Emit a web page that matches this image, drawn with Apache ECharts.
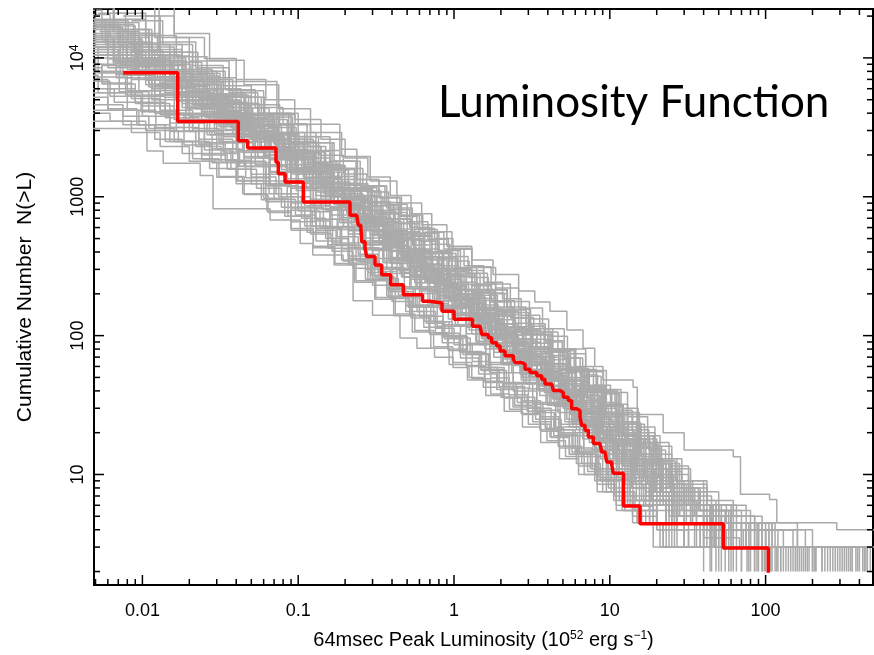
<!DOCTYPE html>
<html><head><meta charset="utf-8">
<script src="https://cdn.jsdelivr.net/npm/echarts@6/dist/echarts.min.js"></script>
<style>html,body{margin:0;padding:0;background:#fff}#c{width:874px;height:655px}</style>
</head><body><div id="c"></div>
<script>
// axis ranges and tick labels
const xMin = 0.00489, xMax = 489, yMin = 1.6, yMax = 22500;
const xMajorTicks = [0.01, 0.1, 1, 10, 100];
const xMinorTicks = [0.005,0.006,0.007,0.008,0.009,0.02,0.03,0.04,0.05,0.06,0.07,0.08,0.09,0.2,0.3,0.4,0.5,0.6,0.7,0.8,0.9,2,3,4,5,6,7,8,9,20,30,40,50,60,70,80,90,200,300,400];
const yMajorTicks = [10, 100, 1000, 10000];
const yMinorTicks = [2,3,4,5,6,7,8,9,20,30,40,50,60,70,80,90,200,300,400,500,600,700,800,900,2000,3000,4000,5000,6000,7000,8000,9000,20000];

// observed luminosity function (red), [L, N(>L)]
const observed = [[0.00754,7810],[0.01685,3485],[0.04125,2532],[0.0474,2245],[0.072,1774],[0.0745,1463],[0.0823,1276],[0.1078,918],[0.215,736],[0.2374,717],[0.243,624],[0.2519,608],[0.2557,475],[0.2685,426],[0.2753,371],[0.3111,323],[0.3435,274],[0.3925,232],[0.4727,197],[0.6278,177],[0.7013,172],[0.8375,150],[1.0,131],[1.314,117],[1.469,114],[1.506,102],[1.661,96.6],[1.746,89],[1.88,84.3],[1.974,77.6],[2.125,71.5],[2.403,67.6],[2.464,64],[2.72,62.2],[2.856,57.3],[3.075,54.3],[3.395,51.4],[3.656,48.6],[3.838,44.8],[4.238,43.6],[4.34,40.2],[4.791,39],[5.03,36],[5.415,34.1],[5.694,29.7],[6.133,28.9],[6.438,25.9],[6.601,22.6],[6.93,20.8],[7.278,18.6],[7.838,16.7],[8.651,16.2],[8.872,14.5],[9.316,14.1],[9.552,12.3],[10.29,11.7],[10.53,10.2],[12.24,5.94],[15.63,4.42],[53.5,2.96],[104.1,1.96]];

// simulated realisations (grey), [L, N(>L)]
const grey01 = [[0.0042,15000],[0.0075,9800],[0.013,6600],[0.021,4600],[0.034,3300],[0.058,2300],[0.095,1500],[0.14,1000],[0.21,700],[0.3,480],[0.43,350],[0.62,260],[0.88,190],[1.25,140],[1.75,104],[2.5,75],[3.4,55],[4.8,38],[6.7,26],[9.5,18],[13.5,12],[19,8],[28,5],[60,3],[140,2]];
const grey02 = [[0.005,17000],[0.009,11000],[0.015,7200],[0.025,5000],[0.042,3500],[0.07,2400],[0.12,1550],[0.18,1050],[0.26,740],[0.38,510],[0.55,370],[0.78,270],[1.1,200],[1.55,145],[2.2,106],[3.1,77],[4.3,56],[6,40],[8.4,27],[12,18],[16.5,12],[23,8],[35,5],[85,3],[210,2]];
const grey03 = [[0.0038,14000],[0.0065,9200],[0.011,6200],[0.018,4400],[0.03,3000],[0.051,2100],[0.085,1350],[0.125,920],[0.185,650],[0.27,450],[0.39,330],[0.56,240],[0.78,178],[1.1,130],[1.55,96],[2.2,70],[3.1,50],[4.3,35],[6,24],[8.5,16],[12,10.5],[17,7],[25,4.5],[55,3],[110,2]];
const grey04 = [[0.006,13000],[0.01,8600],[0.016,6000],[0.03,4000],[0.05,2700],[0.08,1900],[0.11,1300],[0.17,880],[0.24,640],[0.35,450],[0.5,330],[0.7,245],[1.0,178],[1.4,132],[2.0,95],[2.8,70],[3.9,51],[5.4,36],[7.6,25],[10.5,17],[15,11],[21,7],[33,4.5],[75,3],[170,2]];
const grey05 = [[0.0045,12500],[0.008,8200],[0.014,5600],[0.024,3900],[0.04,2700],[0.065,1850],[0.1,1250],[0.15,850],[0.21,600],[0.29,420],[0.4,305],[0.57,225],[0.82,165],[1.2,120],[1.7,88],[2.4,65],[3.4,47],[4.9,34],[7,23],[10,15],[14,10],[20,6.5],[30,4.5],[65,3],[160,2]];
const grey06 = [[0.0055,18000],[0.0095,12000],[0.016,7800],[0.027,5300],[0.045,3700],[0.075,2600],[0.125,1700],[0.19,1150],[0.28,800],[0.41,560],[0.6,400],[0.85,290],[1.2,215],[1.7,155],[2.4,112],[3.4,80],[4.8,57],[6.6,40],[9.2,27],[13,18],[18,12],[25,8],[38,5.5],[58,4],[120,3],[300,2]];
const grey07 = [[0.0035,13000],[0.006,8500],[0.0095,5800],[0.016,4000],[0.027,2800],[0.045,1900],[0.075,1250],[0.11,860],[0.16,610],[0.23,430],[0.33,310],[0.48,225],[0.68,165],[0.97,120],[1.4,88],[2,63],[2.8,45],[3.9,32],[5.5,22],[7.8,15],[11,10],[15.5,6.5],[23,4.5],[45,3],[95,2]];
const grey08 = [[0.0048,14500],[0.0085,9500],[0.014,6500],[0.023,4500],[0.038,3100],[0.062,2150],[0.1,1450],[0.135,1150],[0.17,900],[0.22,720],[0.28,580],[0.36,460],[0.46,370],[0.6,295],[0.78,235],[1.0,185],[1.3,145],[1.7,114],[2.2,90],[2.9,70],[3.8,54],[5,41],[6.5,31],[8.5,23],[11,17],[14.5,12],[19,8.5],[26,6],[40,4],[95,3],[230,2]];
const grey09 = [[0.0041,11000],[0.0072,7700],[0.012,5400],[0.02,3800],[0.033,2700],[0.055,1900],[0.09,1300],[0.13,930],[0.19,670],[0.27,480],[0.38,350],[0.53,255],[0.75,185],[1.05,135],[1.5,98],[2.1,71],[3,51],[4.2,36],[6,25],[8.4,17],[12,11.5],[17,7.5],[26,5],[48,3],[125,2]];
const grey10 = [[0.006,16000],[0.011,10500],[0.018,7000],[0.03,4700],[0.048,3200],[0.075,2200],[0.115,1500],[0.17,1000],[0.24,700],[0.33,500],[0.46,360],[0.64,260],[0.9,190],[1.25,138],[1.75,101],[2.45,74],[3.4,54],[4.7,39],[6.5,28],[9,19],[12.5,13],[17.5,8.5],[25,6],[40,4.5],[90,3],[260,2]];
const grey11 = [[0.0075,20000],[0.013,13000],[0.022,8500],[0.036,5800],[0.06,4000],[0.1,2700],[0.16,1800],[0.25,1200],[0.37,830],[0.54,580],[0.78,410],[1.1,295],[1.55,215],[2.2,155],[3.1,112],[4.3,80],[6,57],[8.2,40],[11,27],[15,18],[20,12],[28,8],[42,5.5],[70,4],[150,3],[380,2]];
const grey12 = [[0.009,24000],[0.016,15000],[0.027,9600],[0.045,6400],[0.075,4300],[0.12,2900],[0.19,1950],[0.29,1300],[0.43,900],[0.62,630],[0.9,440],[1.3,310],[1.85,220],[2.6,158],[3.7,112],[5.1,80],[7,56],[9.5,39],[13,26],[17.5,17],[24,11],[33,7.5],[50,5.5],[80,4],[180,3],[450,2]];
const grey13 = [[0.0095,26000],[0.0128,11000],[0.0227,7750],[0.0315,6760],[0.073,3900],[0.0955,3330],[0.185,2200],[0.238,1150],[0.3,1000],[0.35,910],[0.45,720],[0.578,590],[0.75,500],[0.985,425],[1.3,350],[1.78,275],[2.6,210],[3.3,175],[4.13,150],[5.3,110],[6.73,81],[8,60],[9.04,48],[14.1,42.5],[15,27],[22,20],[30,15],[62,13.4],[69,7.2],[106,6.6],[118,4.5],[286,4],[600,3]];
const grey14 = [[0.0065,15000],[0.011,10000],[0.019,6800],[0.032,4700],[0.055,3300],[0.09,2300],[0.14,1600],[0.21,1100],[0.31,760],[0.45,540],[0.65,390],[0.93,280],[1.3,205],[1.85,150],[2.6,110],[3.6,80],[5,58],[6.9,41],[9.5,28],[13,19],[18,12.5],[25,8],[37,5.5],[60,4],[130,3],[330,2]];
const grey15 = [[0.005,12000],[0.009,8000],[0.016,5600],[0.028,4000],[0.048,2900],[0.08,2000],[0.13,1400],[0.2,980],[0.3,690],[0.44,500],[0.64,365],[0.92,265],[1.3,195],[1.9,142],[2.7,104],[3.8,76],[5.3,55],[7.4,39],[10.3,27],[14,19],[19,13],[27,9],[40,6],[65,4.5],[110,3],[420,2]];
const grey16 = [[0.0058,19000],[0.0105,12500],[0.018,8000],[0.03,5300],[0.05,3600],[0.085,2450],[0.135,1650],[0.2,1130],[0.29,790],[0.42,560],[0.6,400],[0.86,290],[1.2,210],[1.7,152],[2.4,110],[3.4,79],[4.7,57],[6.5,40],[9,27],[12.5,18],[17,12],[24,8],[34,6],[52,4.5],[100,3],[280,2]];
const grey17 = [[0.003,12000],[0.0052,7800],[0.0085,5300],[0.014,3700],[0.023,2600],[0.038,1800],[0.062,1200],[0.09,830],[0.13,590],[0.19,420],[0.27,300],[0.39,218],[0.55,160],[0.78,117],[1.1,86],[1.6,62],[2.25,45],[3.2,32],[4.5,22],[6.4,14.5],[9,9.5],[13,6.5],[19,4.5],[35,3],[70,2]];
const grey18 = [[0.0042,3100],[0.0107,2140],[0.0136,1740],[0.0235,1420],[0.0284,820],[0.066,680],[0.103,460],[0.124,380],[0.194,345],[0.225,178],[0.3,140],[0.45,96],[0.578,81],[0.75,70],[0.985,59],[1.25,50],[1.54,42.5],[2.0,36],[2.39,30.6],[3.55,23],[4.13,18.6],[5.5,14],[8.24,9.2],[14.1,5.9],[19,3],[45,2]];
const grey19 = [[0.0036,5200],[0.006,4200],[0.0095,3300],[0.015,2500],[0.024,1850],[0.04,1300],[0.062,920],[0.09,660],[0.13,480],[0.19,350],[0.27,255],[0.38,190],[0.54,140],[0.76,104],[1.08,77],[1.5,57],[2.1,42],[3,30],[4.2,21],[6,14],[8.5,9.5],[12,6],[18,4.5],[26,3],[55,2]];
const grey20 = [[0.0032,9000],[0.0055,6500],[0.009,4700],[0.015,3400],[0.025,2450],[0.041,1750],[0.066,1200],[0.1,840],[0.145,600],[0.21,430],[0.3,310],[0.43,225],[0.6,165],[0.85,120],[1.2,88],[1.7,64],[2.4,46],[3.4,33],[4.8,23],[6.8,15],[9.6,10],[13.5,7],[20,4.5],[38,3],[80,2]];
const grey21 = [[0.0045,8000],[0.008,5800],[0.013,4200],[0.021,3000],[0.033,2100],[0.05,1450],[0.075,1000],[0.105,700],[0.15,500],[0.21,360],[0.3,260],[0.42,190],[0.6,138],[0.85,100],[1.2,74],[1.7,54],[2.4,40],[3.4,29],[4.8,20],[6.8,13.5],[9.5,9],[13.5,6],[20,4.5],[30,3],[65,2]];
const grey22 = [[0.0028,20000],[0.005,12000],[0.0085,7800],[0.014,5200],[0.024,3600],[0.04,2500],[0.066,1700],[0.1,1150],[0.15,800],[0.21,570],[0.3,410],[0.43,295],[0.61,215],[0.86,157],[1.2,115],[1.7,84],[2.4,61],[3.4,44],[4.8,31],[6.7,21],[9.4,14],[13,9.5],[18,6.5],[27,4.5],[52,3],[115,2]];
const grey23 = [[0.0025,22000],[0.0055,13500],[0.01,8200],[0.017,5600],[0.029,3900],[0.05,2700],[0.082,1850],[0.125,1250],[0.18,860],[0.26,610],[0.37,440],[0.52,320],[0.74,235],[1.05,170],[1.5,124],[2.1,90],[3,65],[4.2,47],[5.9,33],[8.3,22],[11.5,14.5],[16,9.5],[23,6.5],[34,4.5],[70,3],[190,2]];
const grey24 = [[0.0065,9500],[0.011,7200],[0.018,5300],[0.03,3800],[0.05,2700],[0.08,1950],[0.125,1380],[0.19,960],[0.28,680],[0.4,490],[0.57,355],[0.8,260],[1.12,190],[1.58,138],[2.2,101],[3.1,74],[4.3,54],[6,39],[8.3,27],[11.5,18],[16,12],[22,8],[32,6],[48,4.5],[95,3],[240,2]];
const grey25 = [[0.0033,16000],[0.006,10500],[0.0105,7000],[0.018,4700],[0.031,3200],[0.053,2200],[0.088,1500],[0.13,1020],[0.19,710],[0.27,505],[0.39,365],[0.55,265],[0.78,193],[1.1,140],[1.55,102],[2.2,74],[3.1,53],[4.4,38],[6.2,26],[8.7,17.5],[12.3,11.5],[17,7.5],[24,5],[42,3],[100,2]];
const grey26 = [[0.004,13000],[0.0072,9000],[0.012,6300],[0.02,4500],[0.034,3200],[0.057,2250],[0.095,1550],[0.145,1060],[0.215,740],[0.31,530],[0.45,380],[0.65,275],[0.93,200],[1.35,145],[1.95,106],[2.8,77],[3.9,56],[5.5,40],[7.7,28],[10.8,19],[15,13],[21,9],[30,6],[46,4.5],[88,3],[350,2]];
const grey27 = [[0.0052,11500],[0.0093,8000],[0.016,5700],[0.027,4000],[0.045,2800],[0.072,1950],[0.11,1350],[0.16,940],[0.23,660],[0.33,470],[0.47,340],[0.66,250],[0.93,183],[1.3,134],[1.85,98],[2.6,72],[3.6,52],[5.1,37],[7.1,26],[10,17],[14,11],[19.5,7.5],[28,5],[55,3],[145,2]];
const grey28 = [[0.0047,17500],[0.0088,11000],[0.015,7300],[0.026,4900],[0.043,3400],[0.07,2400],[0.11,1650],[0.165,1150],[0.24,800],[0.35,570],[0.5,410],[0.72,295],[1.02,215],[1.45,157],[2.05,115],[2.9,83],[4.1,60],[5.7,43],[8,30],[11,20],[15.5,13],[22,8.5],[31,6],[50,4],[105,3],[270,2]];
const grey29 = [[0.0039,10500],[0.0068,7200],[0.0115,5000],[0.019,3500],[0.032,2450],[0.053,1700],[0.085,1180],[0.125,820],[0.18,580],[0.26,415],[0.37,300],[0.52,218],[0.73,160],[1.02,117],[1.45,86],[2.05,62],[2.9,45],[4.1,32],[5.8,22],[8.2,15],[11.5,10],[16,6.5],[23,4.5],[40,3],[85,2]];
const grey30 = [[0.0062,14000],[0.011,9600],[0.019,6700],[0.033,4700],[0.056,3300],[0.094,2300],[0.15,1600],[0.23,1100],[0.34,770],[0.5,545],[0.72,390],[1.03,280],[1.47,203],[2.1,147],[3,107],[4.2,78],[5.9,56],[8.2,40],[11.3,28],[15.5,19],[21,13],[29,9],[42,6],[75,4.5],[160,3],[700,2]];
const grey31 = [[0.0044,9000],[0.0068,7600],[0.0105,6400],[0.016,5200],[0.024,4300],[0.036,3400],[0.052,2700],[0.075,2050],[0.1,1600],[0.13,1250],[0.165,1000],[0.2,820],[0.25,680],[0.31,560],[0.38,460],[0.47,380],[0.58,315],[0.72,260],[0.9,210],[1.1,172],[1.35,140],[1.65,115],[2.0,95],[2.5,77],[3.1,62],[3.9,49],[4.9,38],[6.1,29],[7.7,22],[9.7,16],[12.5,11.5],[16,8],[22,6],[33,4.5],[62,3],[135,2]];
const grey32 = [[0.0052,21000],[0.0078,15000],[0.0115,10500],[0.017,7600],[0.026,5500],[0.04,4000],[0.06,2900],[0.088,2100],[0.125,1500],[0.17,1100],[0.23,820],[0.3,620],[0.39,480],[0.5,375],[0.65,295],[0.85,230],[1.1,180],[1.42,140],[1.85,108],[2.4,83],[3.1,64],[4,49],[5.2,37],[6.8,27],[8.8,19.5],[11.5,14],[15,10],[20,7],[28,5],[45,4],[80,3],[175,2]];
const grey33 = [[0.0058,6000],[0.009,4800],[0.014,3900],[0.021,3100],[0.031,2500],[0.045,1950],[0.065,1500],[0.09,1150],[0.12,890],[0.16,690],[0.21,540],[0.27,425],[0.35,335],[0.46,265],[0.6,210],[0.78,165],[1.0,130],[1.3,103],[1.7,81],[2.2,64],[2.9,50],[3.8,39],[5,30],[6.5,23],[8.5,17],[11,12],[14.5,8.5],[19,6],[27,4.5],[50,3],[120,2]];
const grey34 = [[0.0038,24000],[0.0066,16000],[0.011,11000],[0.018,7700],[0.029,5500],[0.046,3900],[0.07,2800],[0.1,2050],[0.14,1500],[0.19,1120],[0.25,850],[0.33,650],[0.43,500],[0.56,390],[0.73,305],[0.95,240],[1.24,188],[1.6,148],[2.1,116],[2.75,90],[3.6,70],[4.7,54],[6.1,41],[7.9,31],[10.2,23],[13.2,16.5],[17,11.5],[22,8],[30,6],[45,4.5],[90,3],[320,2]];
const grey35 = [[0.004,10000],[0.0085,8800],[0.011,6200],[0.02,5600],[0.024,4100],[0.043,3500],[0.05,2600],[0.08,2200],[0.095,1700],[0.13,1300],[0.15,1050],[0.21,850],[0.24,650],[0.32,540],[0.36,430],[0.48,360],[0.55,290],[0.72,240],[0.82,195],[1.05,160],[1.25,128],[1.6,104],[1.9,84],[2.4,68],[2.9,55],[3.7,44],[4.4,35],[5.6,27],[6.8,20],[8.6,15],[10.5,11],[14,8],[18,5.5],[27,4],[56,3],[150,2]];
const grey36 = [[0.0035,19000],[0.0058,13000],[0.0092,9200],[0.014,6800],[0.021,5000],[0.033,3700],[0.05,2800],[0.075,2050],[0.11,1500],[0.15,1120],[0.2,850],[0.27,650],[0.36,500],[0.48,385],[0.63,300],[0.82,235],[1.07,184],[1.4,144],[1.82,112],[2.35,88],[3.05,68],[3.95,52],[5.1,40],[6.6,30],[8.5,22],[11,16],[14.3,11],[18.5,7.5],[26,5],[42,4],[75,3],[200,2]];
const grey37 = [[0.0031,7000],[0.006,5600],[0.01,4500],[0.016,3600],[0.026,2800],[0.04,2150],[0.06,1650],[0.085,1250],[0.12,960],[0.16,740],[0.21,580],[0.27,455],[0.35,360],[0.45,285],[0.58,225],[0.75,178],[0.97,140],[1.25,110],[1.6,87],[2.05,68],[2.65,53],[3.4,41],[4.4,31],[5.7,23],[7.4,17],[9.6,12],[12.5,8.5],[16.5,6],[23,4.5],[38,3],[90,2]];
const grey38 = [[0.0068,12000],[0.0115,8800],[0.019,6500],[0.03,4800],[0.047,3500],[0.072,2600],[0.11,1900],[0.16,1400],[0.23,1020],[0.32,750],[0.44,560],[0.6,420],[0.8,318],[1.06,242],[1.4,185],[1.85,142],[2.45,108],[3.2,82],[4.2,62],[5.5,47],[7.2,35],[9.4,26],[12.2,19],[15.8,13.5],[20.5,9.5],[27,6.5],[36,5],[52,4],[100,3],[360,2]];
const grey39 = [[0.0046,16500],[0.0075,11500],[0.012,8000],[0.019,5800],[0.03,4200],[0.047,3000],[0.072,2150],[0.105,1550],[0.145,1150],[0.2,860],[0.27,650],[0.36,495],[0.48,380],[0.63,295],[0.83,230],[1.08,180],[1.4,141],[1.82,110],[2.35,86],[3.05,67],[3.95,51],[5.1,39],[6.6,29],[8.5,21],[11,15],[14.2,10.5],[18.5,7],[25,5],[40,3.5],[68,3],[155,2]];
const grey40 = [[0.0034,8500],[0.0055,6600],[0.0085,5100],[0.013,3900],[0.02,2950],[0.03,2200],[0.045,1650],[0.065,1220],[0.09,900],[0.12,670],[0.16,500],[0.21,375],[0.28,285],[0.37,215],[0.49,165],[0.64,127],[0.84,98],[1.1,76],[1.45,59],[1.9,46],[2.5,36],[3.3,28],[4.4,21],[5.8,15.5],[7.7,11],[10.2,7.5],[14,5.5],[20,4],[32,3],[60,2]];
const grey41 = [[0.0049,4600],[0.0075,3800],[0.011,3100],[0.016,2500],[0.024,2000],[0.035,1580],[0.05,1240],[0.07,960],[0.096,740],[0.13,575],[0.175,445],[0.235,345],[0.31,268],[0.41,208],[0.54,162],[0.71,126],[0.93,98],[1.22,76],[1.6,59],[2.1,45],[2.75,34],[3.6,26],[4.7,19.5],[6.2,14],[8.1,10],[10.7,7],[14,5],[20,4],[30,3],[70,2]];
const grey42 = [[0.0085,18500],[0.0135,12500],[0.021,8800],[0.033,6300],[0.05,4600],[0.076,3350],[0.114,2450],[0.165,1800],[0.235,1330],[0.33,990],[0.46,740],[0.63,555],[0.86,420],[1.16,318],[1.55,242],[2.05,184],[2.7,140],[3.55,106],[4.65,80],[6.05,60],[7.85,44],[10.1,32],[13,23],[16.7,16],[21.5,11],[28,7.5],[38,5.5],[55,4.5],[115,3],[390,2]];
const grey43 = [[0.0043,23000],[0.0065,15500],[0.0095,10500],[0.014,7300],[0.021,5200],[0.032,3700],[0.049,2650],[0.074,1900],[0.108,1380],[0.15,1020],[0.205,760],[0.275,575],[0.36,440],[0.47,340],[0.61,265],[0.79,207],[1.02,162],[1.32,127],[1.7,100],[2.2,78],[2.85,61],[3.7,47],[4.8,36],[6.2,27],[8,20],[10.4,14],[13.5,10],[18,7],[25,5],[44,3],[105,2]];
const grey44 = [[0.0056,10500],[0.0088,8000],[0.0135,6100],[0.02,4700],[0.03,3600],[0.044,2750],[0.064,2080],[0.092,1570],[0.13,1180],[0.18,890],[0.245,675],[0.33,515],[0.44,395],[0.58,305],[0.76,236],[0.99,183],[1.28,142],[1.66,110],[2.15,85],[2.8,65],[3.65,50],[4.75,38],[6.2,28.5],[8.1,21],[10.5,15],[13.7,10.5],[18,7.5],[24,5.5],[36,4.5],[58,3],[125,2]];
const grey45 = [[0.0033,4000],[0.0062,3500],[0.0105,3000],[0.017,2500],[0.027,2050],[0.041,1650],[0.06,1300],[0.085,1000],[0.12,780],[0.165,600],[0.225,465],[0.3,360],[0.4,280],[0.53,218],[0.7,170],[0.92,132],[1.2,103],[1.58,80],[2.07,62],[2.7,48],[3.55,37],[4.65,28],[6.1,21],[8,15.5],[10.5,11],[13.8,8],[18,6],[25,4.5],[40,3],[85,2]];
const grey46 = [[0.0072,16000],[0.0115,11500],[0.018,8300],[0.028,6000],[0.043,4350],[0.065,3150],[0.097,2300],[0.14,1680],[0.2,1240],[0.28,920],[0.39,690],[0.53,520],[0.72,395],[0.97,300],[1.3,229],[1.73,175],[2.3,134],[3.05,102],[4.0,78],[5.25,59],[6.85,44],[8.9,33],[11.5,24],[14.8,17],[19,12],[24.5,8.5],[32,6],[46,4.5],[78,3],[230,2]];
const grey47 = [[0.0037,18000],[0.0058,12500],[0.009,8700],[0.014,6100],[0.022,4300],[0.034,3050],[0.052,2180],[0.078,1570],[0.113,1140],[0.16,840],[0.22,625],[0.3,470],[0.4,355],[0.53,270],[0.7,207],[0.92,158],[1.2,121],[1.57,93],[2.05,71],[2.68,54],[3.5,41],[4.55,31],[5.9,23],[7.7,17],[10,12.5],[13,9],[17,6.5],[23,4.5],[36,3],[78,2]];
const grey48 = [[0.0058,25000],[0.012,14000],[0.02,9500],[0.036,5600],[0.055,4000],[0.09,2500],[0.13,1750],[0.18,1250],[0.25,900],[0.34,660],[0.46,490],[0.62,368],[0.83,278],[1.1,211],[1.46,160],[1.93,122],[2.55,93],[3.35,71],[4.4,54],[5.75,41],[7.5,30],[9.8,22],[12.7,16],[16.5,11],[21.5,7.5],[29,5.5],[42,4],[72,3],[185,2]];
const grey49 = [[0.0041,13500],[0.0066,9500],[0.0105,6900],[0.0165,5000],[0.026,3700],[0.04,2700],[0.061,1980],[0.09,1460],[0.13,1080],[0.18,805],[0.245,605],[0.33,458],[0.44,350],[0.58,268],[0.76,206],[0.99,159],[1.29,123],[1.67,95],[2.17,73],[2.82,56],[3.66,43],[4.75,33],[6.2,24.5],[8.1,18],[10.5,13],[13.7,9],[18,6.5],[25,4.5],[47,3],[98,2]];
const grey50 = [[0.0063,11000],[0.0105,8300],[0.017,6300],[0.027,4800],[0.042,3650],[0.064,2780],[0.096,2100],[0.14,1600],[0.2,1210],[0.28,915],[0.39,695],[0.53,528],[0.72,402],[0.97,306],[1.3,233],[1.74,177],[2.32,134],[3.08,101],[4.08,76],[5.4,57],[7.1,42],[9.3,31],[12.2,22],[15.9,15.5],[20.8,11],[27,8],[35,6],[50,5],[85,4],[160,3],[470,2]];
const grey51 = [[0.0036,6800],[0.0062,5300],[0.0098,4100],[0.015,3150],[0.023,2400],[0.034,1830],[0.05,1390],[0.072,1050],[0.1,790],[0.138,595],[0.186,450],[0.25,340],[0.33,258],[0.44,196],[0.58,149],[0.76,113],[1.0,86],[1.31,65],[1.72,49.5],[2.25,37.5],[2.95,28.5],[3.85,21.5],[5.05,16],[6.6,12],[8.7,9],[11.5,6.5],[15.5,4.5],[24,3],[52,2]];
const grey52 = [[0.005,14000],[0.0079,10000],[0.0125,7300],[0.019,5400],[0.029,4000],[0.044,2950],[0.066,2180],[0.097,1610],[0.14,1190],[0.195,885],[0.265,660],[0.355,495],[0.47,375],[0.62,285],[0.81,218],[1.05,167],[1.36,128],[1.76,98],[2.28,75],[2.95,57],[3.82,43.5],[4.95,33],[6.4,25],[8.3,18.5],[10.8,13.5],[14,9.5],[18.5,6.5],[26,4.5],[50,3],[180,2]];
const grey53 = [[0.0028,26000],[0.0045,18000],[0.007,12500],[0.011,8800],[0.017,6200],[0.026,4400],[0.04,3150],[0.061,2250],[0.092,1620],[0.135,1180],[0.19,870],[0.26,650],[0.35,490],[0.47,372],[0.62,284],[0.82,218],[1.08,167],[1.42,128],[1.86,98],[2.43,75],[3.17,57],[4.13,43],[5.38,32],[7,23.5],[9.1,17],[11.9,12],[15.5,8.5],[21,6],[30,4.5],[55,3],[130,2]];
const grey54 = [[0.0078,14500],[0.0125,10300],[0.02,7400],[0.031,5400],[0.048,3950],[0.073,2900],[0.11,2130],[0.16,1570],[0.23,1160],[0.32,860],[0.44,640],[0.6,478],[0.8,358],[1.06,269],[1.4,203],[1.84,153],[2.42,116],[3.17,88],[4.15,67],[5.42,50],[7.05,37],[9.15,27],[11.8,19.5],[15.3,14],[19.8,10],[25.6,7],[34,5],[52,4],[95,3],[250,2]];
const grey55 = [[0.0047,12000],[0.0072,9300],[0.011,7300],[0.017,5700],[0.026,4400],[0.04,3350],[0.06,2550],[0.088,1930],[0.125,1460],[0.17,1110],[0.225,850],[0.29,660],[0.37,515],[0.47,405],[0.6,320],[0.76,253],[0.96,200],[1.22,158],[1.55,125],[1.97,99],[2.5,78],[3.17,62],[4,49],[5.05,38],[6.4,29],[8.1,22],[10.3,16.5],[13,12],[16.5,9],[21,7.5],[28,6],[40,4.5],[75,3],[210,2]];
const grey56 = [[0.0053,15500],[0.0085,11200],[0.0135,8200],[0.021,6000],[0.033,4400],[0.051,3250],[0.078,2400],[0.115,1780],[0.165,1330],[0.23,1000],[0.31,760],[0.41,585],[0.54,450],[0.7,350],[0.9,272],[1.16,212],[1.5,166],[1.93,130],[2.48,102],[3.2,80],[4.1,62],[5.25,48],[6.7,37],[8.6,28],[11,21],[14,15.5],[18,11],[23,8.5],[30,6],[44,4.5],[70,3],[290,2]];
const grey57 = [[0.0044,11500],[0.007,8600],[0.011,6500],[0.0165,4950],[0.025,3750],[0.038,2850],[0.057,2150],[0.083,1620],[0.118,1220],[0.163,920],[0.22,700],[0.29,535],[0.38,410],[0.5,315],[0.65,243],[0.85,188],[1.1,146],[1.42,113],[1.83,88],[2.36,68],[3.04,53],[3.92,41],[5.05,31],[6.5,24],[8.4,18],[10.8,13],[14,9],[18.5,6.5],[26,4.5],[44,3],[118,2]];
const grey58 = [[0.0078,7200],[0.0115,6000],[0.017,4900],[0.025,3950],[0.037,3150],[0.054,2480],[0.078,1940],[0.11,1510],[0.155,1170],[0.21,905],[0.285,700],[0.38,542],[0.5,420],[0.66,326],[0.86,254],[1.12,198],[1.46,155],[1.9,121],[2.46,95],[3.18,74],[4.1,58],[5.3,45],[6.85,34],[8.85,26],[11.4,19],[14.7,14],[19,10],[24.5,7.5],[33,5.5],[50,4.5],[85,3],[200,2]];
const grey59 = [[0.0039,20500],[0.0062,14000],[0.0098,9800],[0.015,7000],[0.023,5100],[0.035,3750],[0.053,2750],[0.079,2030],[0.115,1500],[0.16,1120],[0.22,840],[0.295,635],[0.39,485],[0.51,372],[0.66,287],[0.86,222],[1.12,172],[1.45,133],[1.88,103],[2.43,80],[3.14,62],[4.06,48],[5.25,36.5],[6.8,27.5],[8.8,20.5],[11.4,15],[14.8,10.5],[19.5,7.5],[27,5],[46,3],[160,2]];
const grey60 = [[0.0066,21000],[0.0105,14500],[0.0165,10200],[0.026,7200],[0.04,5200],[0.061,3750],[0.092,2720],[0.135,1990],[0.195,1460],[0.275,1080],[0.38,805],[0.52,603],[0.7,455],[0.94,345],[1.25,262],[1.66,200],[2.2,153],[2.9,117],[3.8,90],[4.95,69],[6.45,52],[8.35,39],[10.8,29],[13.9,21],[17.8,15],[22.8,10.5],[29,7.5],[38,6],[56,4.5],[95,3],[310,2]];
const grey61 = [[0.0029,15000],[0.0047,10500],[0.0075,7500],[0.012,5400],[0.019,3900],[0.029,2850],[0.044,2080],[0.066,1520],[0.097,1110],[0.14,815],[0.195,605],[0.265,455],[0.355,345],[0.47,263],[0.62,201],[0.81,154],[1.06,118],[1.38,91],[1.8,70],[2.35,54],[3.05,41.5],[3.97,31.5],[5.15,24],[6.7,18],[8.7,13],[11.3,9.5],[14.8,6.5],[20,4.5],[32,3],[88,2]];
const grey62 = [[0.0049,18500],[0.0081,12800],[0.013,9000],[0.0205,6400],[0.032,4600],[0.049,3320],[0.074,2400],[0.108,1750],[0.154,1280],[0.215,945],[0.295,700],[0.4,523],[0.53,393],[0.7,297],[0.91,226],[1.18,173],[1.53,133],[1.98,103],[2.56,80],[3.3,62.5],[4.25,49],[5.5,38],[7.1,29],[9.2,22],[11.9,16.5],[15.4,12],[20,8.5],[26,6.5],[36,5],[55,4],[100,3],[440,2]];
const grey63 = [[0.0055,8800],[0.0085,7000],[0.013,5500],[0.0195,4300],[0.029,3350],[0.043,2600],[0.062,2000],[0.088,1530],[0.123,1170],[0.168,895],[0.226,685],[0.3,525],[0.395,403],[0.515,310],[0.67,239],[0.87,184],[1.13,142],[1.46,109],[1.89,84],[2.44,65],[3.15,50],[4.06,38.5],[5.24,29.5],[6.76,22.5],[8.7,17],[11.2,12.5],[14.5,9],[19,6],[27,4.5],[48,3],[108,2]];
const grey64 = [[0.0046,14000],[0.009,10000],[0.014,7000],[0.025,5000],[0.037,3600],[0.06,2600],[0.088,1900],[0.135,1350],[0.19,980],[0.27,720],[0.37,530],[0.5,400],[0.68,300],[0.9,228],[1.2,174],[1.6,132],[2.1,101],[2.8,77],[3.7,58],[4.9,44],[6.4,33],[8.4,24],[11,17.5],[14.5,12.5],[19,9],[25,6],[36,4.5],[62,3],[205,2]];
const grey65 = [[0.0031,10000],[0.005,7300],[0.0078,5400],[0.012,4000],[0.0185,2980],[0.028,2220],[0.042,1660],[0.062,1240],[0.09,925],[0.128,690],[0.178,515],[0.243,385],[0.325,290],[0.43,219],[0.565,166],[0.74,126],[0.97,96],[1.27,73],[1.66,56],[2.17,43],[2.84,33],[3.72,25],[4.87,19],[6.38,14],[8.4,10.5],[11,7.5],[14.5,5.5],[20,4.5],[30,3],[76,2]];
const grey66 = [[0.0071,13000],[0.0115,9500],[0.0185,7000],[0.029,5200],[0.045,3850],[0.068,2850],[0.101,2100],[0.147,1560],[0.21,1160],[0.295,865],[0.41,648],[0.56,488],[0.76,368],[1.02,279],[1.36,212],[1.81,161],[2.4,123],[3.17,94],[4.18,72],[5.5,55],[7.2,42],[9.4,31.5],[12.2,23.5],[15.8,17],[20.4,12.5],[26.3,9],[34,7],[45,6],[62,4.5],[110,3],[400,2]];
const grey67 = [[0.0061,9800],[0.0093,7800],[0.014,6100],[0.021,4700],[0.031,3600],[0.046,2760],[0.067,2110],[0.097,1610],[0.138,1230],[0.192,940],[0.262,720],[0.352,552],[0.466,424],[0.61,327],[0.79,253],[1.02,196],[1.32,152],[1.7,118],[2.19,91],[2.82,71],[3.63,55],[4.68,42],[6.03,32],[7.77,24],[10,18],[12.9,13],[16.7,9.5],[22,6.5],[31,4.5],[60,3],[165,2]];
const grey68 = [[0.0034,17000],[0.0072,13000],[0.0095,9000],[0.017,7600],[0.021,5300],[0.036,4400],[0.043,3100],[0.07,2600],[0.083,1850],[0.125,1500],[0.145,1100],[0.2,900],[0.23,680],[0.3,560],[0.35,430],[0.46,355],[0.53,275],[0.68,225],[0.8,178],[1.0,145],[1.2,116],[1.5,95],[1.8,76],[2.3,62],[2.75,50],[3.5,40],[4.2,32],[5.3,25],[6.4,19],[8,14.5],[9.8,11],[13,8],[17,6],[24,4.5],[40,3],[95,2]];
const grey69 = [[0.0058,12500],[0.0095,9300],[0.0155,6900],[0.0245,5150],[0.038,3850],[0.058,2880],[0.087,2160],[0.127,1620],[0.182,1220],[0.255,920],[0.35,695],[0.475,527],[0.635,400],[0.84,305],[1.1,233],[1.44,179],[1.88,138],[2.44,106],[3.16,82],[4.08,63],[5.26,48.5],[6.78,37],[8.72,28],[11.2,21],[14.4,15.5],[18.5,11],[23.7,8],[31,6],[44,4.5],[80,3],[340,2]];
const grey70 = [[0.0042,6000],[0.0066,4800],[0.01,3800],[0.015,2950],[0.022,2300],[0.032,1780],[0.046,1370],[0.065,1050],[0.09,800],[0.123,610],[0.166,465],[0.222,355],[0.294,272],[0.387,208],[0.508,160],[0.665,123],[0.87,95],[1.14,73],[1.49,56],[1.95,43],[2.55,33],[3.34,25],[4.37,19],[5.72,14.5],[7.5,11],[9.8,8],[13,6],[18,4.5],[27,3],[62,2]];
const grey71 = [[0.008,15000],[0.013,11000],[0.021,8000],[0.034,5900],[0.053,4400],[0.08,3300],[0.12,2450],[0.17,1800],[0.24,1330],[0.33,980],[0.45,730],[0.6,545],[0.8,410],[1.06,310],[1.4,235],[1.85,178],[2.45,135],[3.25,102],[4.3,77],[5.6,58],[7.3,43],[9.4,32],[12,23],[15.3,16.5],[19.5,12],[25,8.5],[33,6.5],[48,4.5],[90,3],[360,2]];
const grey72 = [[0.0095,12500],[0.015,9300],[0.024,7000],[0.038,5200],[0.058,3900],[0.087,2900],[0.13,2150],[0.185,1600],[0.26,1190],[0.36,885],[0.5,660],[0.68,495],[0.92,372],[1.23,281],[1.64,213],[2.18,161],[2.9,122],[3.85,92],[5.1,69],[6.7,51],[8.8,38],[11.5,28],[15,20],[19.5,14],[25,10],[32,7.5],[42,6],[60,4.5],[105,3],[430,2]];
const grey73 = [[0.0105,20000],[0.016,14000],[0.025,9900],[0.04,7000],[0.062,5000],[0.095,3600],[0.14,2600],[0.2,1900],[0.28,1390],[0.39,1020],[0.53,755],[0.72,560],[0.97,418],[1.3,313],[1.73,235],[2.3,176],[3.05,132],[4.05,99],[5.35,74],[7,55],[9.1,41],[11.8,30],[15.2,22],[19.5,16],[25,11.5],[32,8.5],[42,6.5],[62,5],[95,4],[200,3],[550,2]];
const grey74 = [[0.0037,5600],[0.006,4300],[0.0092,3300],[0.014,2500],[0.021,1880],[0.031,1400],[0.045,1040],[0.064,770],[0.09,575],[0.125,430],[0.17,322],[0.23,242],[0.31,183],[0.41,139],[0.54,106],[0.71,81],[0.93,62],[1.22,48],[1.6,37],[2.1,28.5],[2.75,22],[3.6,17],[4.75,13],[6.3,10],[8.3,7.5],[11,5.5],[15,4.5],[22,3],[48,2]];
const grey75 = [[0.0032,7500],[0.0052,5600],[0.008,4200],[0.0122,3150],[0.0185,2360],[0.028,1760],[0.041,1310],[0.06,975],[0.086,725],[0.12,540],[0.165,405],[0.225,305],[0.3,231],[0.4,176],[0.53,134],[0.7,102],[0.92,78],[1.2,60],[1.58,46],[2.08,35.5],[2.74,27],[3.6,20.5],[4.75,15.5],[6.3,11.5],[8.3,8.5],[11,6],[15,4.5],[22,3],[50,2]];
const grey76 = [[0.0045,4200],[0.0075,3300],[0.012,2600],[0.018,2050],[0.027,1600],[0.04,1240],[0.058,950],[0.082,725],[0.114,555],[0.155,425],[0.21,325],[0.28,250],[0.37,193],[0.49,149],[0.64,115],[0.84,89],[1.1,69],[1.44,53],[1.88,41],[2.45,31.5],[3.2,24],[4.2,18.5],[5.5,14],[7.2,10.5],[9.5,7.5],[12.5,5.5],[17,4.5],[25,3],[58,2]];
const grey77 = [[0.0029,11000],[0.0046,7900],[0.0071,5700],[0.011,4100],[0.0165,2980],[0.025,2170],[0.037,1580],[0.054,1150],[0.078,840],[0.11,615],[0.155,452],[0.213,334],[0.29,248],[0.39,185],[0.52,139],[0.69,105],[0.91,80],[1.2,61],[1.57,47],[2.06,36],[2.7,27.5],[3.55,21],[4.66,16],[6.1,12],[8,9],[10.6,6.5],[14,4.5],[21,3],[44,2]];
const grey78 = [[0.0048,3500],[0.0085,2900],[0.013,2300],[0.02,1800],[0.03,1380],[0.044,1050],[0.063,790],[0.09,590],[0.125,440],[0.172,330],[0.235,248],[0.315,188],[0.42,143],[0.56,109],[0.74,83],[0.98,64],[1.3,49],[1.72,38],[2.27,29.5],[3,23],[3.95,17.5],[5.2,13.5],[6.85,10],[9,7.5],[12,5.5],[16,4.5],[23,3],[40,2]];
const greyRuns = [grey01,grey02,grey03,grey04,grey05,grey06,grey07,grey08,grey09,grey10,grey11,grey12,grey13,grey14,grey15,grey16,grey17,grey18,grey19,grey20,grey21,grey22,grey23,grey24,grey25,grey26,grey27,grey28,grey29,grey30,grey31,grey32,grey33,grey34,grey35,grey36,grey37,grey38,grey39,grey40,grey41,grey42,grey43,grey44,grey45,grey46,grey47,grey48,grey49,grey50,grey51,grey52,grey53,grey54,grey55,grey56,grey57,grey58,grey59,grey60,grey61,grey62,grey63,grey64,grey65,grey66,grey67,grey68,grey69,grey70,grey71,grey72,grey73,grey74,grey75,grey76,grey77,grey78];

const FONT = "'Liberation Sans', Arial, Helvetica, sans-serif";
const chart = echarts.init(document.getElementById('c'), null, {renderer: 'canvas'});

// tick marks (drawn inward on all four sides) through the axes' own coordinate mapping
const tickData = [];
xMajorTicks.forEach(v => { tickData.push([v, 0, 1]); tickData.push([v, 1, 1]); });
xMinorTicks.forEach(v => { tickData.push([v, 0, 0]); tickData.push([v, 1, 0]); });
yMajorTicks.forEach(v => { tickData.push([v, 2, 1]); tickData.push([v, 3, 1]); });
yMinorTicks.forEach(v => { tickData.push([v, 2, 0]); tickData.push([v, 3, 0]); });

function renderTick(params, api) {
  const v = api.value(0), side = api.value(1), major = api.value(2);
  const len = major ? 10 : 6;
  let p, q;
  if (side === 0) { p = api.coord([v, yMin]); q = [p[0], p[1] - len]; }
  else if (side === 1) { p = api.coord([v, yMax]); q = [p[0], p[1] + len]; }
  else if (side === 2) { p = api.coord([xMin, v]); q = [p[0] + len, p[1]]; }
  else { p = api.coord([xMax, v]); q = [p[0] - len, p[1]]; }
  return { type: 'line', shape: {x1: p[0], y1: p[1], x2: q[0], y2: q[1]}, style: {stroke: '#000', lineWidth: 1.5} };
}

const series = greyRuns.map(run => ({
  type: 'line', data: run, step: 'end', showSymbol: false, silent: true,
  lineStyle: {color: '#aaaaaa', width: 1.5}, z: 2, animation: false
}));
series.push({
  type: 'line', data: observed, step: 'end', showSymbol: false, silent: true,
  lineStyle: {color: '#ff0000', width: 3.5}, z: 5, animation: false
});
series.push({
  type: 'custom', data: tickData, renderItem: renderTick, silent: true, z: 8, animation: false
});

chart.setOption({
  animation: false,
  backgroundColor: '#ffffff',
  title: {
    text: 'Luminosity Function', left: 433, top: 76,
    textStyle: {fontFamily: 'Lato', fontSize: 44, fontWeight: 'normal', color: '#000'}
  },
  grid: {left: 94, right: 1, top: 9, bottom: 66, show: true, borderColor: '#000', borderWidth: 2, backgroundColor: 'transparent'},
  xAxis: {
    type: 'log', logBase: 10, min: xMin, max: xMax,
    axisLine: {show: false}, axisTick: {show: false}, splitLine: {show: false}, minorTick: {show: false},
    axisLabel: {
      showMinLabel: false, showMaxLabel: false, margin: 17,
      color: '#000', fontSize: 18, fontFamily: FONT,
      formatter: v => String(+(+v).toPrecision(3))
    },
    name: '64msec Peak Luminosity (10{s|52} erg s{s|−1})',
    nameLocation: 'middle', nameGap: 45,
    nameTextStyle: {color: '#000', fontSize: 20, fontFamily: FONT,
      rich: {s: {fontSize: 12, verticalAlign: 'top', color: '#000', fontFamily: FONT}}}
  },
  yAxis: {
    type: 'log', logBase: 10, min: yMin, max: yMax,
    axisLine: {show: false}, axisTick: {show: false}, splitLine: {show: false}, minorTick: {show: false},
    axisLabel: {
      showMinLabel: false, showMaxLabel: false, margin: 7, rotate: 90,
      color: '#000', fontSize: 18, fontFamily: FONT,
      formatter: v => (v >= 9999 ? '{b|10}{s|4}' : String(Math.round(v))),
      rich: {b: {fontSize: 18, fontFamily: FONT, color: '#000'}, s: {fontSize: 12, verticalAlign: 'top', fontFamily: FONT, color: '#000'}}
    },
    name: 'Cumulative Number  N(>L)',
    nameLocation: 'middle', nameGap: 58, nameRotate: 90,
    nameTextStyle: {color: '#000', fontSize: 21, fontFamily: FONT}
  },
  series: series
});
</script>
</body></html>
